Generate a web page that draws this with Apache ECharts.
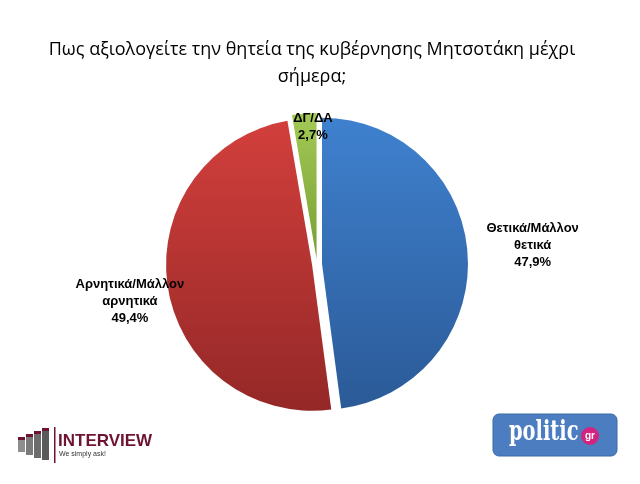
<!DOCTYPE html>
<html>
<head>
<meta charset="utf-8">
<script src="https://cdn.jsdelivr.net/npm/echarts@6/dist/echarts.min.js"></script>
<style>
  html, body { margin: 0; padding: 0; background: #fff; }
  #chart { width: 640px; height: 484px; }
</style>
</head>
<body>
<div id="chart"></div>
<script>
// δεδομένα
const categories = ['Θετικά/Μάλλον θετικά', 'Αρνητικά/Μάλλον αρνητικά', 'ΔΓ/ΔΑ'];
const values = [47.9, 49.4, 2.7];

const colorTop = ['#3f81cf', '#d23f3c', '#a3ca56'];
const colorBottom = ['#2b5a97', '#942827', '#789f33'];

const chart = echarts.init(document.getElementById('chart'), null, {renderer: 'canvas'});

const seriesData = categories.map((name, i) => ({
  name: name,
  value: values[i],
  selected: true,
  itemStyle: {
    color: new echarts.graphic.LinearGradient(0, 0, 0, 1, [
      {offset: 0, color: colorTop[i]},
      {offset: 1, color: colorBottom[i]}
    ])
  }
}));

chart.setOption({
  animation: false,
  backgroundColor: '#fff',
  title: {
    text: 'Πως αξιολογείτε την θητεία της κυβέρνησης Μητσοτάκη μέχρι\nσήμερα;',
    left: 307,
    top: 31,
    textAlign: 'center',
    textStyle: {
      fontFamily: 'Open Sans',
      fontSize: 18,
      fontWeight: 'normal',
      color: '#000',
      lineHeight: 27,
      align: 'center'
    }
  },
  series: [{
    type: 'pie',
    center: [317, 264],
    radius: 146,
    startAngle: 90,
    clockwise: true,
    selectedMode: 'multiple',
    selectedOffset: 5,
    silent: true,
    label: {
      show: true,
      position: 'outside',
      overflow: 'none',
      fontFamily: 'Liberation Sans',
      fontSize: 13,
      fontWeight: 'bold',
      color: '#000',
      lineHeight: 17,
      formatter: p => p.name.replace(' ', '\n') + '\n' + p.value.toFixed(1).replace('.', ',') + '%'
    },
    labelLine: {show: false},
    labelLayout: function (p) {
      // μετατόπιση ετικετών από την προεπιλεγμένη θέση
      if (p.dataIndex === 0) return {dx: 15, dy: -8, align: 'center'};
      if (p.dataIndex === 1) return {dx: 12, dy: 12, align: 'center'};
      return {dx: 45, dy: 28, align: 'center'};
    },
    data: seriesData
  }],
  graphic: [
    // INTERVIEW logo
    {type: 'rect', shape: {x: 18, y: 438, width: 7, height: 14}, style: {fill: '#8e8e8e'}},
    {type: 'rect', shape: {x: 26, y: 435, width: 7, height: 20}, style: {fill: '#7a7a7a'}},
    {type: 'rect', shape: {x: 34, y: 432, width: 7, height: 26}, style: {fill: '#6c6c6c'}},
    {type: 'rect', shape: {x: 42, y: 429, width: 7, height: 31}, style: {fill: '#5a5a5a'}},
    {type: 'rect', shape: {x: 18, y: 437, width: 7, height: 3}, style: {fill: '#6e1432'}},
    {type: 'rect', shape: {x: 26, y: 434, width: 7, height: 3}, style: {fill: '#6e1432'}},
    {type: 'rect', shape: {x: 34, y: 431, width: 7, height: 3}, style: {fill: '#6e1432'}},
    {type: 'rect', shape: {x: 42, y: 428, width: 7, height: 3}, style: {fill: '#6e1432'}},
    {type: 'rect', shape: {x: 54, y: 427, width: 1.5, height: 36}, style: {fill: '#6e1432'}},
    {type: 'text', x: 58, y: 433, style: {text: 'INTERVIEW', fill: '#6e1432', font: 'bold 17px "Liberation Sans"'}},
    {type: 'text', x: 59, y: 451, style: {text: 'We simply ask!', fill: '#333', font: '7px "Liberation Sans"'}},
    // politic.gr logo
    {type: 'rect', shape: {x: 493, y: 414, width: 124, height: 42, r: 6}, style: {fill: '#4b7dc0', stroke: '#3b6aa6', lineWidth: 1}},
    {type: 'text', x: 509, y: 419, scaleX: 0.72, style: {text: 'politic', fill: '#fff', font: 'bold 27px "DejaVu Serif"'}},
    {type: 'circle', shape: {cx: 590, cy: 436, r: 9}, style: {fill: '#d4237e'}},
    {type: 'text', x: 590, y: 436, style: {text: 'gr', fill: '#fff', font: 'bold 10px "Liberation Sans"', align: 'center', verticalAlign: 'middle'}}
  ]
});
</script>
</body>
</html>
